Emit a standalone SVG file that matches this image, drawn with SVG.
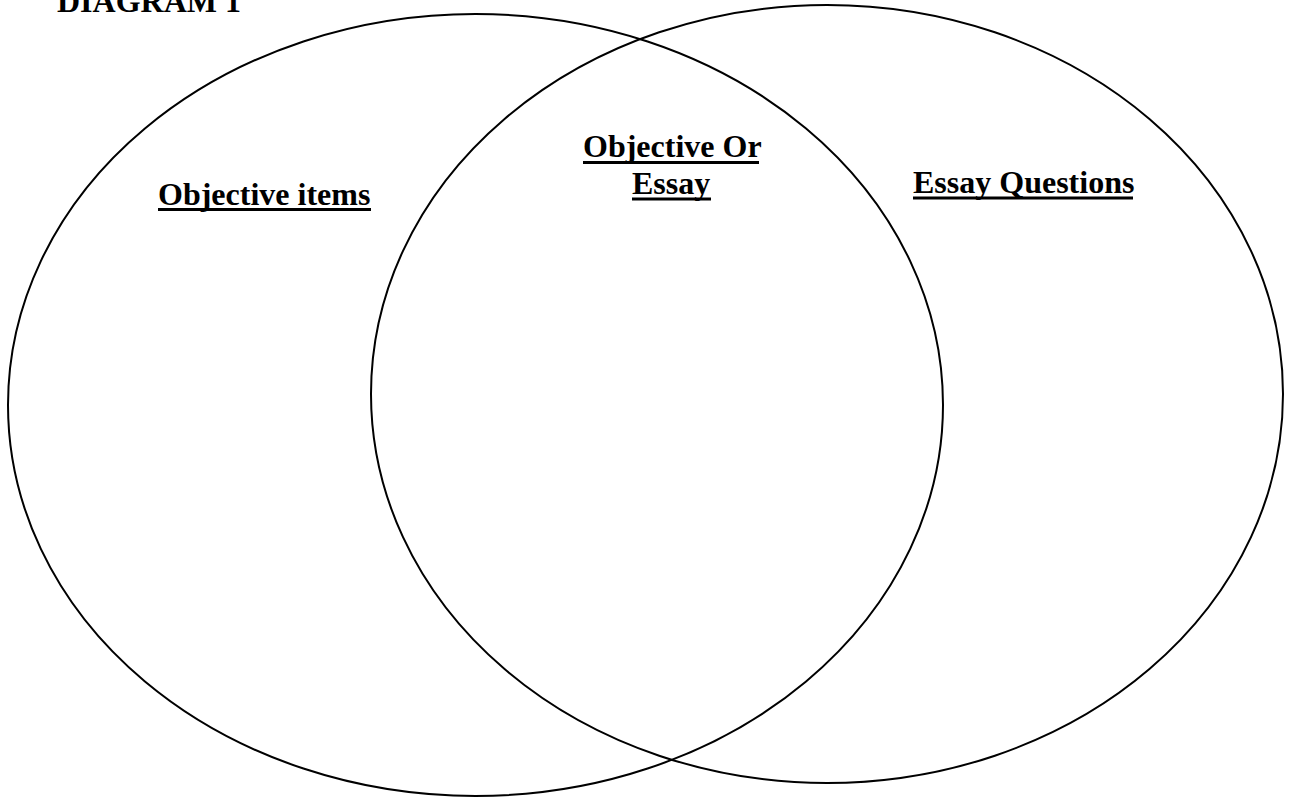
<svg xmlns="http://www.w3.org/2000/svg" width="1289" height="799" viewBox="0 0 1289 799">
<style>
.ring{fill:none;stroke:#000;stroke-width:2}
.lbl{font-family:"Liberation Serif","Times New Roman",serif;font-weight:bold;font-size:32px;fill:#000}
.ul{stroke:#000;stroke-width:3}
</style>
<rect width="1289" height="799" fill="#fff"/>
<text class="lbl" x="57" y="12">DIAGRAM 1</text>
<g id="left-set">
<ellipse class="ring" cx="475.5" cy="405" rx="467.5" ry="391"/>
<text class="lbl" x="158" y="205">Objective items</text>
<line class="ul" x1="158" y1="209.5" x2="371" y2="209.5"/>
</g>
<g id="right-set">
<ellipse class="ring" cx="827" cy="394" rx="456" ry="389"/>
<text class="lbl" x="913" y="193">Essay Questions</text>
<line class="ul" x1="913" y1="198" x2="1133" y2="198"/>
</g>
<g id="overlap">
<text class="lbl" x="583" y="157">Objective Or</text>
<line class="ul" x1="583" y1="162.5" x2="759" y2="162.5"/>
<text class="lbl" x="632" y="194">Essay</text>
<line class="ul" x1="632" y1="199" x2="711" y2="199"/>
</g>
<g id="connectors"/>
</svg>
